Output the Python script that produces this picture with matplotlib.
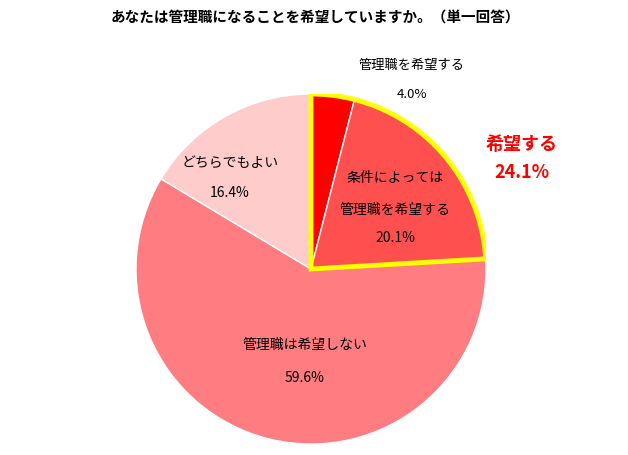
import matplotlib
matplotlib.use("Agg")
import matplotlib.pyplot as plt
from matplotlib.patches import Wedge

plt.rcParams['font.family'] = ['Noto Sans CJK JP', 'DejaVu Sans']

labels = ["管理職を希望する", "条件によっては\n管理職を希望する", "管理職は希望しない", "どちらでもよい"]
values = [4.0, 20.1, 59.6, 16.4]
colors = ["#FF0000", "#FF5050", "#FF7C80", "#FFCCCC"]
title = "あなたは管理職になることを希望していますか。（単一回答）"

W, H = 628, 456
fig = plt.figure(figsize=(W/100, H/100), dpi=100)
cx, cy, r = 311, 270, 175
ax = fig.add_axes([(cx-r)/W, (H-cy-r)/H, 2*r/W, 2*r/H])
ax.pie(values, colors=colors, startangle=90, counterclock=False,
       wedgeprops=dict(edgecolor="white", linewidth=1))
ax.set_xlim(-1, 1); ax.set_ylim(-1, 1)
# yellow outline around 希望する group
tot = sum(values)
a2 = 90 - 360*(values[0]+values[1])/tot
ax.add_patch(Wedge((0, 0), 1.0, a2, 90, fill=False, edgecolor="#FFFF00", linewidth=3.5))

def t(x, y, s, **kw):
    fig.text(x/W, 1-y/H, s, ha="center", va="center", **kw)

t(315, 18, title, fontsize=10.5, fontweight="bold")
t(412, 66, labels[0], fontsize=9.5)
t(412, 95, f"{values[0]:.1f}%", fontsize=9.5)
t(395, 178, "条件によっては", fontsize=10)
t(395, 210, "管理職を希望する", fontsize=10)
t(395, 238, f"{values[1]:.1f}%", fontsize=10)
t(230, 163, labels[3], fontsize=10)
t(230, 193, f"{values[3]:.1f}%", fontsize=10)
t(305, 345, labels[2], fontsize=10)
t(305, 378, f"{values[2]:.1f}%", fontsize=10)
t(522, 145, "希望する", fontsize=13, fontweight="bold", color="#FF0000")
t(522, 173, f"{values[0]+values[1]:.1f}%", fontsize=13, fontweight="bold", color="#FF0000")

fig.savefig("out.png", dpi=100, facecolor="white")
